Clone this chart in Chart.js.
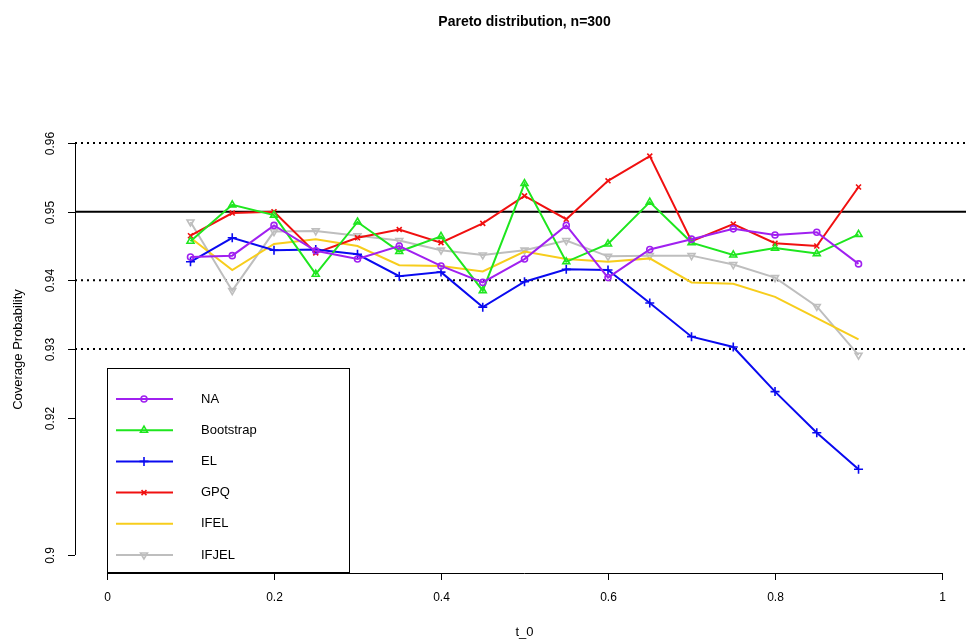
<!DOCTYPE html>
<html>
<head>
<meta charset="utf-8">
<script src="https://cdn.jsdelivr.net/npm/chart.js@4"></script>
<style>
  html, body { margin: 0; padding: 0; background: #fff; }
  #wrap { width: 966px; height: 642px; }
</style>
</head>
<body>
<div id="wrap"><canvas id="chart" width="966" height="642"></canvas></div>
<script>
// DATA
const t0 = [0.1, 0.15, 0.2, 0.25, 0.3, 0.35, 0.4, 0.45, 0.5, 0.55, 0.6, 0.65, 0.7, 0.75, 0.8, 0.85, 0.9];

const naData    = [0.9434, 0.9436, 0.9480, 0.9443, 0.9431, 0.9450, 0.9421, 0.9397, 0.9431, 0.9480, 0.9404, 0.9445, 0.9460, 0.9475, 0.9466, 0.9470, 0.9424];
const bootData  = [0.9457, 0.9510, 0.9495, 0.9409, 0.9485, 0.9442, 0.9464, 0.9385, 0.9541, 0.9427, 0.9453, 0.9514, 0.9455, 0.9437, 0.9447, 0.9439, 0.9467];
const elData    = [0.9427, 0.9462, 0.9444, 0.9445, 0.9438, 0.9406, 0.9412, 0.9361, 0.9398, 0.9416, 0.9415, 0.9367, 0.9318, 0.9303, 0.9238, 0.9178, 0.9125];
const gpqData   = [0.9465, 0.9498, 0.9500, 0.9440, 0.9462, 0.9474, 0.9455, 0.9483, 0.9523, 0.9489, 0.9545, 0.9581, 0.9457, 0.9482, 0.9454, 0.9450, 0.9536];
const ifelData  = [0.9462, 0.9415, 0.9453, 0.9460, 0.9450, 0.9422, 0.9421, 0.9413, 0.9442, 0.9431, 0.9427, 0.9432, 0.9397, 0.9395, 0.9376, 0.9345, 0.9314];
const ifjelData = [0.9485, 0.9385, 0.9471, 0.9472, 0.9465, 0.9458, 0.9444, 0.9437, 0.9444, 0.9458, 0.9435, 0.9436, 0.9436, 0.9423, 0.9404, 0.9362, 0.9291];

const xTicks = [0, 0.2, 0.4, 0.6, 0.8, 1];
const xTickLabels = ["0", "0.2", "0.4", "0.6", "0.8", "1"];
const yTicks = [0.9, 0.92, 0.93, 0.94, 0.95, 0.96];
const yTickLabels = ["0.9", "0.92", "0.93", "0.94", "0.95", "0.96"];

const solidLines = [0.95];
const dottedLines = [0.96, 0.94, 0.93];

const FONT = "'Liberation Sans', Arial, Helvetica, sans-serif";

function pts(arr) {
    return t0.map((x, i) => ({ x: x, y: arr[i] }));
}

function series(label, arr, color, style, radius, rotation) {
    return {
        label: label,
        data: pts(arr),
        borderColor: color,
        borderWidth: 2,
        pointStyle: style,
        pointRadius: radius,
        pointRotation: rotation || 0,
        pointBorderColor: color,
        pointBackgroundColor: 'rgba(0,0,0,0)',
        pointBorderWidth: 1.6,
        pointHoverRadius: radius,
        tension: 0,
        fill: false
    };
}

const datasets = [
    series("NA", naData, "#A020F0", "circle", 3),
    series("Bootstrap", bootData, "#1EE61E", "triangle", 4),
    series("EL", elData, "#0A0AF0", "cross", 4.5),
    series("GPQ", gpqData, "#F01010", "crossRot", 3.5),
    series("IFEL", ifelData, "#F7CD1C", "circle", 0),
    series("IFJEL", ifjelData, "#BEBEBE", "triangle", 4, 180)
];

// reference lines, drawn under the data
const refLinesPlugin = {
    id: 'refLines',
    beforeDatasetsDraw(chart) {
        const ctx = chart.ctx;
        const y = chart.scales.y;
        const area = chart.chartArea;
        ctx.save();
        ctx.strokeStyle = '#000';
        ctx.lineWidth = 2;
        solidLines.forEach(v => {
            const py = y.getPixelForValue(v);
            ctx.beginPath();
            ctx.moveTo(area.left, py);
            ctx.lineTo(area.right, py);
            ctx.stroke();
        });
        ctx.setLineDash([2, 4]);
        dottedLines.forEach(v => {
            const py = y.getPixelForValue(v);
            ctx.beginPath();
            ctx.moveTo(area.left, py);
            ctx.lineTo(area.right, py);
            ctx.stroke();
        });
        ctx.restore();
    }
};

// R-style axes, titles and boxed legend
const axesPlugin = {
    id: 'rAxes',
    afterDraw(chart) {
        const ctx = chart.ctx;
        const xs = chart.scales.x;
        const ys = chart.scales.y;
        const area = chart.chartArea;
        const midX = (xs.getPixelForValue(-0.04) + xs.getPixelForValue(1.04)) / 2;
        ctx.save();
        ctx.strokeStyle = '#000';
        ctx.fillStyle = '#000';
        ctx.lineWidth = 1;

        // x axis
        const ax = area.bottom;
        ctx.beginPath();
        ctx.moveTo(xs.getPixelForValue(xTicks[0]), ax + 0.5);
        ctx.lineTo(xs.getPixelForValue(xTicks[xTicks.length - 1]), ax + 0.5);
        ctx.stroke();
        ctx.font = '12px ' + FONT;
        ctx.textAlign = 'center';
        ctx.textBaseline = 'middle';
        xTicks.forEach((v, i) => {
            const px = Math.round(xs.getPixelForValue(v)) + 0.5;
            ctx.beginPath();
            ctx.moveTo(px, ax);
            ctx.lineTo(px, ax + 7);
            ctx.stroke();
            ctx.fillText(xTickLabels[i], px, ax + 25);
        });

        // y axis
        const ay = area.left;
        ctx.beginPath();
        ctx.moveTo(ay + 0.5, ys.getPixelForValue(yTicks[0]));
        ctx.lineTo(ay + 0.5, ys.getPixelForValue(yTicks[yTicks.length - 1]));
        ctx.stroke();
        yTicks.forEach((v, i) => {
            const py = Math.round(ys.getPixelForValue(v)) + 0.5;
            ctx.beginPath();
            ctx.moveTo(ay, py);
            ctx.lineTo(ay - 7, py);
            ctx.stroke();
            ctx.save();
            ctx.translate(ay - 24, py);
            ctx.rotate(-Math.PI / 2);
            ctx.fillText(yTickLabels[i], 0, 0);
            ctx.restore();
        });

        // titles
        ctx.font = 'bold 14px ' + FONT;
        ctx.fillText('Pareto distribution, n=300', midX, 22);
        ctx.font = '13px ' + FONT;
        ctx.fillText('t_0', midX, 632);
        ctx.save();
        ctx.translate(18, (area.top + area.bottom) / 2);
        ctx.rotate(-Math.PI / 2);
        ctx.fillText('Coverage Probability', 0, 0);
        ctx.restore();

        // legend box
        const bx = 107.5, by = 368.5, bw = 242, bh = 204;
        ctx.fillStyle = '#fff';
        ctx.fillRect(bx, by, bw, bh);
        ctx.strokeStyle = '#000';
        ctx.strokeRect(bx, by, bw, bh);
        ctx.font = '13px ' + FONT;
        ctx.textAlign = 'left';
        chart.data.datasets.forEach((ds, i) => {
            const ly = 399 + i * 31.2;
            ctx.strokeStyle = ds.borderColor;
            ctx.lineWidth = 2;
            ctx.beginPath();
            ctx.moveTo(116, ly);
            ctx.lineTo(173, ly);
            ctx.stroke();
            if (ds.pointRadius > 0) {
                ctx.fillStyle = 'rgba(0,0,0,0)';
                ctx.lineWidth = ds.pointBorderWidth;
                Chart.helpers.drawPoint(ctx, {
                    pointStyle: ds.pointStyle,
                    radius: ds.pointRadius,
                    rotation: ds.pointRotation,
                    borderWidth: ds.pointBorderWidth
                }, 144, ly);
            }
            ctx.fillStyle = '#000';
            ctx.fillText(ds.label, 201, ly);
        });
        ctx.restore();
    }
};

new Chart(document.getElementById("chart"), {
    type: 'line',
    data: { datasets: datasets },
    options: {
        responsive: false,
        animation: false,
        layout: { autoPadding: false, padding: { left: 75, right: 0, top: 126, bottom: 69 } },
        plugins: {
            legend: { display: false },
            title: { display: false },
            tooltip: { enabled: false }
        },
        scales: {
            x: { type: 'linear', min: -0.0383, max: 1.0287, display: false },
            y: { type: 'linear', min: 0.89738, max: 0.96248, display: false }
        }
    },
    plugins: [refLinesPlugin, axesPlugin]
});
</script>
</body>
</html>
